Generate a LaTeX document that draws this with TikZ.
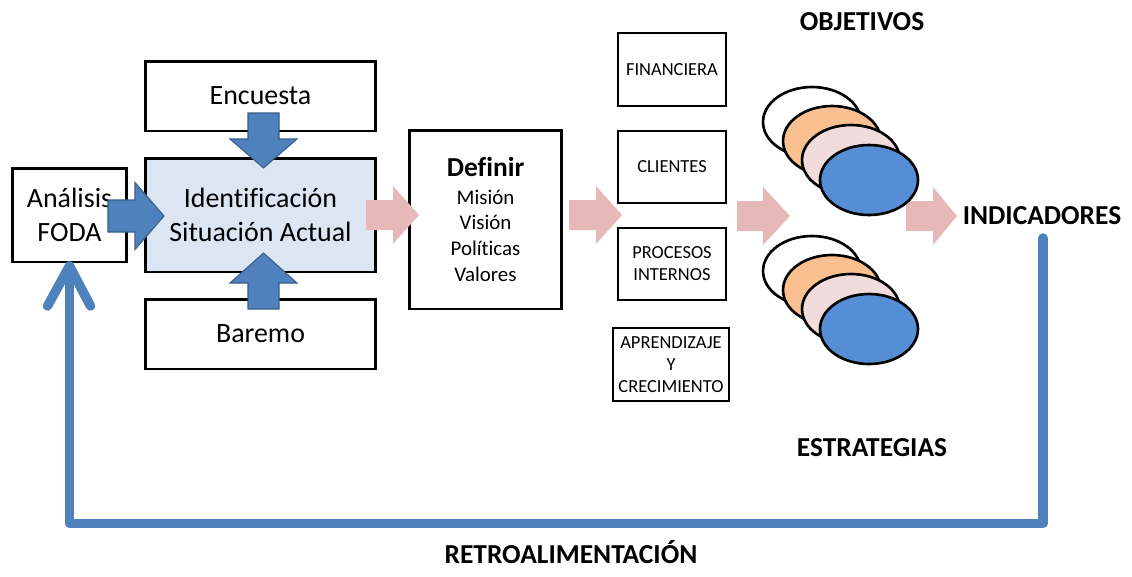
\documentclass[tikz,border=0pt]{standalone}
\usepackage{fontspec}
\setmainfont{Carlito}[Ligatures=NoCommon]
\usetikzlibrary{shapes.geometric}
\definecolor{lblue}{HTML}{DCE6F2}
\definecolor{ablue}{HTML}{4F81BD}
\definecolor{dblue}{HTML}{385D8A}
\definecolor{apink}{HTML}{E6B9B8}
\definecolor{eorange}{HTML}{FAC090}
\definecolor{epink}{HTML}{F2DCDB}
\definecolor{eblue}{HTML}{558ED5}
\newcommand{\fbig}{\fontsize{15.9pt}{19.3pt}\selectfont}
\newcommand{\fmid}{\fontsize{11.9pt}{14.7pt}\selectfont}
\newcommand{\fsmall}{\fontsize{10.5pt}{12.5pt}\selectfont}
\newcommand{\fhead}{\fontsize{15.6pt}{19pt}\selectfont\bfseries}
% horizontal block arrow: style, x0, xbase, xtip, yc, shaft half, head half
\newcommand{\blkH}[7]{\path[#1] (#2,#5-#6) -- (#3,#5-#6) -- (#3,#5-#7) -- (#4,#5) -- (#3,#5+#7) -- (#3,#5+#6) -- (#2,#5+#6) -- cycle;}
% vertical block arrow: style, y0, ybase, ytip, xc, shaft half, head half
\newcommand{\blkV}[7]{\path[#1] (#5-#6,#2) -- (#5-#6,#3) -- (#5-#7,#3) -- (#5,#4) -- (#5+#7,#3) -- (#5+#6,#3) -- (#5+#6,#2) -- cycle;}
\begin{document}
\begin{tikzpicture}[x=0.02cm,y=-0.02cm,
  box/.style={draw, line width=1.7pt, align=center, inner sep=0pt},
  sbox/.style={draw, line width=1.5pt, align=center, inner sep=0pt, font=\fsmall},
  barrow/.style={fill=ablue, draw=dblue, line width=0.6pt},
  parrow/.style={fill=apink},
  ell/.style={ellipse, draw, line width=1.5pt, minimum width=1.96cm, minimum height=1.4cm, inner sep=0pt},
  head/.style={font=\fhead, anchor=base, inner sep=0pt},
  fb/.style={draw=ablue, line width=5.4pt, line join=round, line cap=round}]
\useasboundingbox (0,0) rectangle (1132,576);

% boxes
\node[box, minimum width=2.3cm, minimum height=1.88cm, font=\fbig] (foda) at (69.5,215) {Análisis\\FODA};
\node[box, minimum width=4.62cm, minimum height=1.4cm, font=\fbig] (enc) at (260.5,96) {Encuesta};
\node[box, fill=lblue, minimum width=4.62cm, minimum height=2.28cm, font=\fbig] (ident) at (260.5,215) {Identificación\\Situación Actual};
\node[box, minimum width=4.62cm, minimum height=1.4cm, font=\fbig] (bar) at (260.5,334) {Baremo};
\node[box, minimum width=3.06cm, minimum height=3.58cm, font=\fmid] (def) at (485.5,219.5) {{\fontsize{15.6pt}{19pt}\selectfont\bfseries Definir}\\[1pt]Misión\\Visión\\Políticas\\Valores};

\node[sbox, minimum width=2.16cm, minimum height=1.46cm] (fin) at (672,69.5) {FINANCIERA};
\node[sbox, minimum width=2.16cm, minimum height=1.44cm] (cli) at (672,167) {CLIENTES};
\node[sbox, minimum width=2.16cm, minimum height=1.44cm] (pro) at (672,264) {PROCESOS\\INTERNOS};
\node[sbox, minimum width=2.32cm, minimum height=1.46cm] (apr) at (671,364.5) {APRENDIZAJE\\Y\\CRECIMIENTO};

% blue block arrows
\blkV{barrow}{113}{139}{168}{263.5}{15.5}{33.5}
\blkV{barrow}{309}{283}{253}{263.5}{15.5}{33.5}
\blkH{barrow}{108}{135}{164}{216}{16}{33.5}

% pink block arrows
\blkH{parrow}{366}{393}{419}{215}{15}{29}
\blkH{parrow}{569}{596}{622}{215}{15}{29}
\blkH{parrow}{737}{763}{790}{216}{15}{29}
\blkH{parrow}{906}{933}{957}{216}{15}{29}

% ellipses (objetivos)
\node[ell, fill=white]   (o1) at (812,122) {};
\node[ell, fill=eorange] (o2) at (832,141) {};
\node[ell, fill=epink]   (o3) at (851,160) {};
\node[ell, fill=eblue]   (o4) at (869,180) {};
% ellipses (estrategias)
\node[ell, fill=white]   (e1) at (812,271) {};
\node[ell, fill=eorange] (e2) at (832,290) {};
\node[ell, fill=epink]   (e3) at (851,309) {};
\node[ell, fill=eblue]   (e4) at (869,329) {};

% headings
\node[head] (obj) at (862,30) {OBJETIVOS};
\node[head] (indic) at (1042,224) {INDICADORES};
\node[head] (estr) at (872,456) {ESTRATEGIAS};
\node[head] (retro) at (571,563) {RETROALIMENTACIÓN};

% feedback loop
\coordinate (rstart) at (1043,238);
\coordinate (bot) at (0,523.5);
\coordinate (tip) at (69.5,266);
\draw[fb] (rstart) -- (rstart |- bot) -- (tip |- bot) -- (tip);
\draw[fb] ([shift={(-22,40)}]tip) -- (tip) -- ([shift={(21,40)}]tip);
\end{tikzpicture}
\end{document}
